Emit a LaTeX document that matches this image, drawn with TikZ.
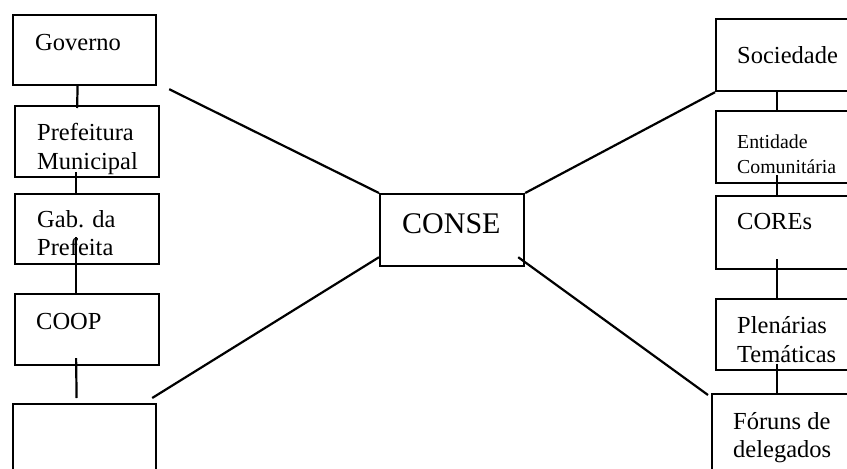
\documentclass[tikz,border=0pt]{standalone}
\usepackage{fontspec}
\setmainfont{Liberation Serif}
\begin{document}
\begin{tikzpicture}[x=1pt,y=-1pt,
  box/.style={draw=black, line width=2.2pt, rectangle, anchor=north west, inner sep=0pt},
  txt/.style={anchor=base west, inner sep=0pt, font=\fontsize{24.5}{29}\selectfont},
  small/.style={anchor=base west, inner sep=0pt, font=\fontsize{19.8}{24}\selectfont},
  big/.style={anchor=base west, inner sep=0pt, font=\fontsize{30}{36}\selectfont},
  link/.style={draw=black, line width=2.2pt}]
\useasboundingbox (0,0) rectangle (847,469);
\clip (0,0) rectangle (847,469);

% government column
\node[box, minimum width=143pt, minimum height=70pt] (gov) at (12,14) {};
\node[box, minimum width=144pt, minimum height=71pt] (pref) at (14,105) {};
\node[box, minimum width=144pt, minimum height=70pt] (gab) at (14,193) {};
\node[box, minimum width=144pt, minimum height=71pt] (coop) at (14,293) {};
\node[box, minimum width=143pt, minimum height=90pt] (blank) at (12,403) {};

\node[txt] (govT) at (35,50) {Governo};
\node[txt] (prefA) at (37,140) {Prefeitura};
\node[txt] (prefB) at (37,169) {Municipal};
\node[txt] (gabA) at (37,227) {Gab. da};
\node[txt] (gabB) at (37,255) {Prefeita};
\node[txt] (coopT) at (36,329) {COOP};

% centre
\node[box, minimum width=144pt, minimum height=72pt] (cons) at (379,193) {};
\node[big] (consT) at (402,233) {CONSE};

% society column
\node[box, minimum width=150pt, minimum height=72pt] (soc) at (715,18) {};
\node[box, minimum width=150pt, minimum height=72pt] (ent) at (715,110) {};
\node[box, minimum width=150pt, minimum height=73pt] (cores) at (715,195) {};
\node[box, minimum width=150pt, minimum height=71pt] (plen) at (715,298) {};
\node[box, minimum width=150pt, minimum height=90pt] (foro) at (711,393) {};

\node[txt] (socT) at (737,63) {Sociedade};
\node[small] (entA) at (737,148) {Entidade};
\node[small] (entB) at (737,173) {Comunitária};
\node[txt] (coresT) at (737,229) {COREs};
\node[txt] (plenA) at (737,333) {Plenárias};
\node[txt] (plenB) at (737,362) {Temáticas};
\node[txt] (foroA) at (733,429) {Fóruns de};
\node[txt] (foroB) at (733,457) {delegados};

% vertical links, left
\draw[link] ([shift={(-7,0)}]gov.south) -- ([shift={(-10,3)}]pref.north);
\draw[link] ([shift={(-11,-6)}]pref.south) -- ([shift={(-11,0)}]gab.north);
\draw[link] ([shift={(-11,-28)}]gab.south) -- ([shift={(-11,0)}]coop.north);
\draw[link] ([shift={(-11,-8)}]coop.south) -- ([shift={(-8,-5)}]blank.north);

% vertical links, right
\draw[link] ([shift={(-14,0)}]soc.south) -- ([shift={(-14,0)}]ent.north);
\draw[link] ([shift={(-14,-9)}]ent.south) -- ([shift={(-14,0)}]cores.north);
\draw[link] ([shift={(-14,-11)}]cores.south) -- ([shift={(-14,0)}]plen.north);
\draw[link] ([shift={(-14,-7)}]plen.south) -- ([shift={(-10,0)}]foro.north);

% diagonal links to the centre
\draw[link] ([shift={(12,3)}]gov.south east) -- (cons.north west);
\draw[link] ([shift={(-5,-5)}]blank.north east) -- ([shift={(0,-10)}]cons.south west);
\draw[link] (cons.north east) -- (soc.south west);
\draw[link] ([shift={(-7,-10)}]cons.south east) -- ([shift={(-3,2)}]foro.north west);
\end{tikzpicture}
\end{document}
